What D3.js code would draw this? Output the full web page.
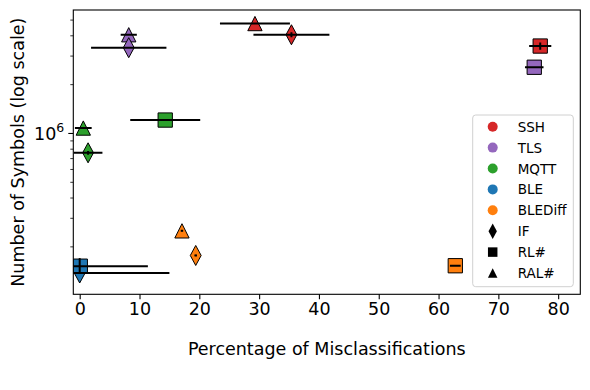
<!DOCTYPE html>
<html>
<head>
<meta charset="utf-8">
<script src="https://cdn.jsdelivr.net/npm/d3@7"></script>
<style>
  body { margin: 0; background: #fff; }
  text { font-family: "DejaVu Sans", sans-serif; }
</style>
</head>
<body>
<svg id="chart" width="590" height="390"></svg>
<script>
// protocols and their colours
const protocols = ['SSH', 'TLS', 'MQTT', 'BLE', 'BLEDiff'];
const protocolColors = ['#d62728', '#9467bd', '#2ca02c', '#1f77b4', '#ff7f0e'];

// learning methods (marker shapes)
const methods = ['IF', 'RL#', 'RAL#'];

// values per protocol, in the order IF, RL#, RAL#
const xValues = [
    [35.4, 77.0, 29.3],
    [8.2, 76.0, 8.2],
    [1.4, 14.3, 0.6],
    [0.0, 0.1, 0.0],
    [19.4, 62.8, 17.1]
];
const xErrors = [
    [6.35, 1.85, 5.85],
    [6.3, 1.55, 1.35],
    [2.4, 5.85, 1.4],
    [15.0, 11.3, 0],
    [0.2, 0.9, 0.2]
];
const yValues = [
    [4.06e6, 3.46e6, 4.76e6],
    [3.38e6, 2.56e6, 4.06e6],
    [7.6e5, 1.21e6, 1.08e6],
    [1.38e5, 1.52e5, 1.53e5],
    [1.77e5, 1.53e5, 2.51e5]
];
const yErrors = [
    [1.4e5, 1.8e5, 0],
    [0, 0, 0],
    [2.0e4, 0, 0],
    [0, 0, 1.7e4],
    [1.5e3, 0, 1.5e3]
];

const xTicks = [0, 10, 20, 30, 40, 50, 60, 70, 80];

const svg = d3.select('#chart');
const margin = {left: 73.3, right: 9.7, top: 10, bottom: 95.7};
const width = 590, height = 390;

const x = d3.scaleLinear()
    .domain([-1.07, 83.7])
    .range([margin.left, width - margin.right]);

const y = d3.scaleLog()
    .domain([1.02e5, 5.77e6])
    .range([height - margin.bottom, margin.top]);

const plot = svg.append('g');

svg.append('defs').append('clipPath').attr('id', 'clip')
    .append('rect')
    .attr('x', x.range()[0]).attr('y', y.range()[1])
    .attr('width', x.range()[1] - x.range()[0])
    .attr('height', y.range()[0] - y.range()[1]);

// marker shapes
function markerPath(method, s) {
    if (method === 'IF') {
        const w = s * 0.38, h = s * 0.7;
        return `M0,${-h}L${w},0L0,${h}L${-w},0Z`;
    }
    if (method === 'RL#') {
        const h = s / 2;
        return `M${-h},${-h}H${h}V${h}H${-h}Z`;
    }
    const h = s / 2;
    return `M0,${-h}L${h},${h}L${-h},${h}Z`;
}

// flatten into points, triangles first, then diamonds, then squares
const drawOrder = [2, 0, 1];
let points = [];
drawOrder.forEach(m => {
    protocols.forEach((p, i) => {
        points.push({
            protocol: p, color: protocolColors[i], method: methods[m],
            x: xValues[i][m], xe: xErrors[i][m],
            y: yValues[i][m], ye: yErrors[i][m]
        });
    });
});

const marks = plot.append('g').attr('clip-path', 'url(#clip)');

marks.selectAll('path.marker')
    .data(points)
    .enter().append('path')
    .attr('class', 'marker')
    .attr('transform', d => `translate(${x(d.x)},${y(d.y)})`)
    .attr('d', d => markerPath(d.method, 14.3))
    .attr('fill', d => d.color)
    .attr('stroke', '#000')
    .attr('stroke-width', 1);

// error bars on top of the markers
marks.selectAll('line.xerr')
    .data(points.filter(d => d.xe > 0))
    .enter().append('line')
    .attr('x1', d => x(d.x - d.xe))
    .attr('x2', d => x(d.x + d.xe))
    .attr('y1', d => y(d.y))
    .attr('y2', d => y(d.y))
    .attr('stroke', '#000')
    .attr('stroke-width', 2);

marks.selectAll('line.yerr')
    .data(points.filter(d => d.ye > 0))
    .enter().append('line')
    .attr('x1', d => x(d.x))
    .attr('x2', d => x(d.x))
    .attr('y1', d => y(d.y - d.ye))
    .attr('y2', d => y(d.y + d.ye))
    .attr('stroke', '#000')
    .attr('stroke-width', 2);

// axes
const xAxis = svg.append('g')
    .attr('transform', `translate(0,${y.range()[0]})`)
    .call(d3.axisBottom(x).tickValues(xTicks).tickSize(5).tickPadding(3));
xAxis.select('.domain').remove();
xAxis.selectAll('text').attr('font-size', 17.5).attr('fill', '#000')
    .style('font-family', 'DejaVu Sans');
xAxis.selectAll('line').attr('stroke-width', 1.1);

const minorTicks = [];
for (let e = 5; e <= 6; e++)
    for (let k = 1; k < 10; k++) {
        const v = k * Math.pow(10, e);
        if (v > y.domain()[0] && v < y.domain()[1] && v !== 1e6) minorTicks.push(v);
    }

const yAxis = svg.append('g')
    .attr('transform', `translate(${x.range()[0]},0)`);
yAxis.selectAll('line.minor')
    .data(minorTicks)
    .enter().append('line')
    .attr('x1', -3).attr('x2', 0)
    .attr('y1', d => y(d)).attr('y2', d => y(d))
    .attr('stroke', '#000').attr('stroke-width', 0.8);
yAxis.append('line')
    .attr('x1', -5).attr('x2', 0)
    .attr('y1', y(1e6)).attr('y2', y(1e6))
    .attr('stroke', '#000').attr('stroke-width', 1.1);
const major = yAxis.append('text')
    .attr('x', -9).attr('y', y(1e6) + 7)
    .attr('text-anchor', 'end')
    .attr('font-size', 17.5);
major.append('tspan').text('10');
major.append('tspan').attr('dy', -8).attr('font-size', 12.5).text('6');

// frame
svg.append('rect')
    .attr('x', x.range()[0]).attr('y', y.range()[1])
    .attr('width', x.range()[1] - x.range()[0])
    .attr('height', y.range()[0] - y.range()[1])
    .attr('fill', 'none')
    .attr('stroke', '#000')
    .attr('stroke-width', 1.1);

// axis titles
svg.append('text')
    .attr('x', (x.range()[0] + x.range()[1]) / 2)
    .attr('y', 355)
    .attr('text-anchor', 'middle')
    .attr('font-size', 17.5)
    .text('Percentage of Misclassifications');

svg.append('text')
    .attr('transform', `translate(24,${(y.range()[0] + y.range()[1]) / 2}) rotate(-90)`)
    .attr('text-anchor', 'middle')
    .attr('font-size', 17.5)
    .text('Number of Symbols (log scale)');

// legend
const legend = svg.append('g').attr('transform', 'translate(472.7,115)');
legend.append('rect')
    .attr('width', 100.6).attr('height', 171.7)
    .attr('rx', 3)
    .attr('fill', '#fff').attr('fill-opacity', 0.8)
    .attr('stroke', '#d0d0d0');

const legendItems = protocols.map((p, i) => ({label: p, color: protocolColors[i], shape: 'circle'}))
    .concat(methods.map(m => ({label: m, color: '#000', shape: m})));

const rows = legend.selectAll('g.item')
    .data(legendItems)
    .enter().append('g')
    .attr('class', 'item')
    .attr('transform', (d, i) => `translate(0,${11.7 + i * 20.9})`);

rows.each(function (d) {
    const g = d3.select(this);
    if (d.shape === 'circle')
        g.append('circle').attr('cx', 20).attr('r', 5).attr('fill', d.color);
    else
        g.append('path').attr('transform', 'translate(20,0)')
            .attr('d', markerPath(d.shape, d.shape === 'IF' ? 11 : 9.5)).attr('fill', '#000');
});

rows.append('text')
    .attr('x', 45)
    .attr('y', 5)
    .attr('font-size', 13.5)
    .text(d => d.label);
</script>
</body>
</html>
